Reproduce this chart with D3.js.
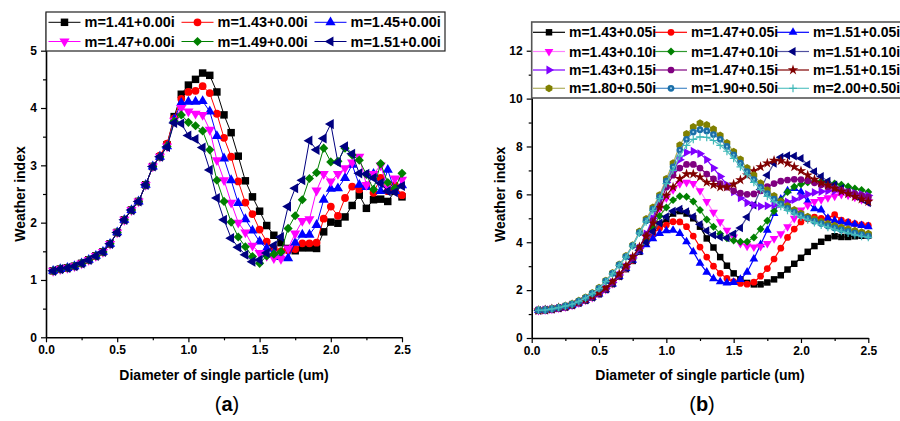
<!DOCTYPE html>
<html>
<head>
<meta charset="utf-8">
<script src="https://cdn.jsdelivr.net/npm/d3@7"></script>
<style>
  body { margin: 0; background: #fff; }
  text { font-family: "Liberation Sans", Arial, sans-serif; }
</style>
</head>
<body>
<svg id="chart" width="900" height="421"></svg>
<script>
// particle diameter (um), same grid for both panels
const diameter = [0.05,0.10,0.15,0.20,0.25,0.30,0.35,0.40,0.45,0.50,
                  0.55,0.60,0.65,0.70,0.75,0.80,0.85,0.90,0.95,1.00,
                  1.05,1.10,1.15,1.20,1.25,1.30,1.35,1.40,1.45,1.50,
                  1.55,1.60,1.65,1.70,1.75,1.80,1.85,1.90,1.95,2.00,
                  2.05,2.10,2.15,2.20,2.25,2.30,2.35,2.40,2.45,2.50];

// ---- panel (a): non absorbing particles
const labelsA = ["m=1.41+0.00i","m=1.43+0.00i","m=1.45+0.00i","m=1.47+0.00i","m=1.49+0.00i","m=1.51+0.00i"];
const a141 = [1.16,1.19,1.21,1.24,1.29,1.35,1.42,1.49,1.63,1.83,2.05,2.22,2.37,2.66,2.98,3.15,3.36,3.85,4.24,4.40,
              4.50,4.61,4.57,4.28,3.88,3.57,3.16,2.73,2.45,2.20,1.95,1.78,1.65,1.55,1.51,1.56,1.56,1.55,1.84,2.01,
              1.99,2.10,2.30,2.48,2.25,2.40,2.41,2.37,2.55,2.45];
const a143 = [1.16,1.19,1.21,1.24,1.29,1.35,1.42,1.49,1.63,1.83,2.05,2.22,2.37,2.66,2.98,3.17,3.38,3.82,4.16,4.28,
              4.30,4.38,4.26,3.90,3.48,3.15,2.72,2.35,2.15,1.88,1.67,1.55,1.50,1.52,1.54,1.64,1.64,1.65,2.07,2.28,
              2.12,2.43,2.63,2.58,2.65,2.52,2.78,2.55,2.65,2.48];
const a145 = [1.16,1.19,1.21,1.24,1.29,1.35,1.42,1.49,1.63,1.83,2.05,2.22,2.37,2.66,2.98,3.15,3.33,3.80,4.09,4.11,
              4.11,4.12,3.94,3.51,3.12,2.74,2.34,2.06,1.86,1.67,1.55,1.47,1.40,1.38,1.65,1.79,1.79,1.96,2.40,2.59,
              2.60,2.78,3.01,2.66,2.62,2.85,2.55,2.92,2.55,2.65];
const a147 = [1.16,1.19,1.21,1.24,1.29,1.35,1.42,1.49,1.63,1.83,2.05,2.22,2.37,2.66,2.98,3.15,3.33,3.78,4.00,3.94,
              3.90,3.88,3.62,3.09,2.74,2.35,2.00,1.83,1.60,1.47,1.42,1.38,1.37,1.55,1.81,2.03,2.06,2.56,2.85,2.72,
              2.85,2.95,3.05,3.15,2.66,2.85,3.00,2.60,2.77,2.75];
const a149 = [1.16,1.19,1.21,1.24,1.29,1.35,1.42,1.49,1.63,1.83,2.05,2.22,2.37,2.66,2.98,3.15,3.33,3.77,3.88,3.75,
              3.69,3.60,3.27,2.74,2.37,2.01,1.75,1.58,1.41,1.29,1.42,1.45,1.49,1.90,2.12,2.40,2.77,2.87,3.30,3.06,
              3.07,3.30,3.18,3.09,2.84,2.58,3.03,2.70,2.60,2.86];
const a151 = [1.16,1.19,1.21,1.24,1.29,1.35,1.42,1.49,1.63,1.83,2.05,2.22,2.37,2.66,2.98,3.15,3.32,3.74,3.73,3.52,
              3.46,3.31,2.92,2.43,2.05,1.73,1.57,1.44,1.32,1.35,1.47,1.60,1.75,2.28,2.60,2.74,3.43,3.27,3.47,3.72,
              3.05,3.33,3.20,2.86,2.85,2.78,2.69,2.55,2.53,2.64];
const valuesA = [a141, a143, a145, a147, a149, a151];

// ---- panel (b): absorbing particles
const labelsB = ["m=1.43+0.05i","m=1.47+0.05i","m=1.51+0.05i",
                 "m=1.43+0.10i","m=1.47+0.10i","m=1.51+0.10i",
                 "m=1.43+0.15i","m=1.47+0.15i","m=1.51+0.15i",
                 "m=1.80+0.50i","m=1.90+0.50i","m=2.00+0.50i"];
const b143k05 = [1.15,1.17,1.20,1.24,1.29,1.36,1.46,1.57,1.69,1.84,2.02,2.26,2.56,2.88,3.22,3.60,4.05,4.45,4.75,4.95,
                 5.20,5.30,5.20,5.00,4.65,4.16,3.78,3.38,3.02,2.70,2.45,2.30,2.24,2.24,2.32,2.45,2.62,2.86,3.10,3.35,
                 3.60,3.84,4.02,4.18,4.25,4.22,4.22,4.25,4.27,4.28];
const b147k05 = [1.15,1.17,1.20,1.24,1.29,1.36,1.46,1.57,1.69,1.84,2.02,2.26,2.57,2.89,3.24,3.63,4.00,4.35,4.60,4.72,
                 4.86,4.85,4.65,4.26,3.80,3.38,3.00,2.70,2.49,2.35,2.28,2.25,2.33,2.58,2.90,3.30,3.75,4.20,4.55,4.85,
                 4.98,5.05,5.00,5.00,5.15,4.92,4.85,4.78,4.74,4.70];
const b151k05 = [1.15,1.17,1.20,1.24,1.29,1.36,1.46,1.57,1.69,1.84,2.02,2.26,2.57,2.90,3.25,3.60,3.90,4.15,4.37,4.48,
                 4.50,4.37,4.02,3.60,3.12,2.75,2.48,2.35,2.30,2.32,2.45,2.75,3.30,3.90,4.50,5.20,5.80,6.15,6.25,6.10,
                 5.70,5.40,5.35,5.00,4.90,4.85,4.80,4.75,4.70,4.65];
const b143k10 = [1.15,1.17,1.20,1.25,1.30,1.37,1.47,1.58,1.70,1.85,2.03,2.28,2.60,2.93,3.30,3.70,4.20,4.80,5.40,5.85,
                 6.20,6.45,6.50,6.45,6.15,5.70,5.25,4.85,4.50,4.22,3.95,3.84,3.80,3.83,3.95,4.15,4.35,4.65,5.00,5.35,
                 5.55,5.70,5.78,5.86,5.93,6.00,5.97,5.88,5.78,5.70];
const b147k10 = [1.15,1.17,1.20,1.25,1.30,1.37,1.47,1.58,1.70,1.85,2.03,2.28,2.59,2.92,3.28,3.68,4.10,4.60,5.10,5.45,
                 5.76,5.92,5.90,5.70,5.35,4.95,4.65,4.35,4.17,4.07,4.02,4.02,4.20,4.55,4.90,5.30,5.75,6.10,6.32,6.42,
                 6.50,6.55,6.55,6.50,6.45,6.40,6.33,6.25,6.18,6.10];
const b151k10 = [1.15,1.17,1.20,1.25,1.30,1.37,1.47,1.58,1.70,1.85,2.03,2.28,2.59,2.92,3.28,3.67,4.00,4.45,4.80,5.07,
                 5.30,5.38,5.28,5.07,4.75,4.48,4.30,4.22,4.18,4.35,4.60,5.05,5.55,6.20,6.80,7.30,7.55,7.62,7.60,7.50,
                 7.25,6.95,6.75,6.55,6.40,6.25,6.10,5.95,5.80,5.65];
const b143k15 = [1.15,1.17,1.20,1.25,1.30,1.38,1.48,1.60,1.73,1.88,2.07,2.32,2.63,2.97,3.34,3.75,4.35,5.00,5.80,6.50,
                 7.00,7.45,7.75,7.80,7.70,7.45,7.10,6.75,6.40,6.10,5.85,5.65,5.55,5.50,5.52,5.55,5.60,5.68,5.78,5.90,
                 6.00,6.08,6.12,6.15,6.15,6.12,6.08,6.05,6.00,5.95];
const b147k15 = [1.15,1.17,1.20,1.25,1.31,1.38,1.48,1.60,1.73,1.88,2.07,2.32,2.63,2.97,3.34,3.76,4.30,4.90,5.60,6.30,
                 6.80,7.10,7.25,7.25,7.10,6.85,6.65,6.45,6.30,6.15,6.05,6.00,6.02,6.15,6.32,6.45,6.55,6.60,6.63,6.62,
                 6.57,6.48,6.40,6.32,6.25,6.18,6.10,6.02,5.95,5.88];
const b151k15 = [1.15,1.17,1.21,1.26,1.31,1.39,1.50,1.62,1.75,1.90,2.10,2.36,2.68,3.02,3.40,3.80,4.25,4.80,5.45,5.95,
                 6.30,6.65,6.85,6.85,6.72,6.50,6.40,6.30,6.30,6.42,6.60,6.80,6.98,7.15,7.30,7.42,7.40,7.30,7.15,6.98,
                 6.80,6.62,6.48,6.38,6.25,6.12,6.02,5.90,5.80,5.70];
const b180k50 = [1.17,1.18,1.23,1.28,1.35,1.43,1.56,1.70,1.88,2.10,2.40,2.72,3.07,3.43,3.88,4.45,4.97,5.45,5.97,6.65,
                 7.30,8.05,8.52,8.82,8.97,8.90,8.72,8.46,8.15,7.78,7.46,7.10,6.80,6.47,6.18,5.93,5.70,5.52,5.35,5.20,
                 5.07,4.96,4.86,4.77,4.69,4.62,4.55,4.48,4.42,4.36];
const b190k50 = [1.16,1.17,1.22,1.27,1.34,1.41,1.54,1.68,1.86,2.07,2.38,2.70,3.05,3.40,3.86,4.40,4.90,5.38,5.90,6.55,
                 7.15,7.85,8.30,8.60,8.70,8.65,8.50,8.30,8.00,7.65,7.30,6.95,6.62,6.30,6.03,5.80,5.60,5.42,5.26,5.12,
                 5.00,4.88,4.78,4.68,4.60,4.52,4.45,4.38,4.32,4.26];
const b200k50 = [1.16,1.17,1.22,1.27,1.33,1.41,1.53,1.67,1.85,2.06,2.36,2.68,3.03,3.38,3.84,4.38,4.85,5.32,5.82,6.45,
                 7.00,7.60,8.05,8.30,8.40,8.38,8.25,8.05,7.80,7.50,7.15,6.82,6.50,6.20,5.92,5.70,5.50,5.33,5.18,5.05,
                 4.93,4.82,4.72,4.62,4.53,4.45,4.38,4.31,4.25,4.20];
const valuesB = [b143k05, b147k05, b151k05, b143k10, b147k10, b151k10,
                 b143k15, b147k15, b151k15, b180k50, b190k50, b200k50];

// styles
const colorsA = ["#000000","#ff0000","#0000ff","#ff00ff","#008000","#000080"];
const shapesA = ["square","circle","up","down","diamond","left"];
const colorsB = ["#000000","#ff0000","#0000ff","#ff00ff","#008000","#000080",
                 "#8000ff","#800080","#800000","#808000","#1a6fa8","#3fb8b8"];
const linesB  = ["#000000","#ff0000","#0000ff","#ff80ff","#2f9a2f","#5050a0",
                 "#8000ff","#800080","#800000","#b0b060","#4a8cc8","#5cc4c4"];
const shapesB = ["square","circle","up","down","diamond","left",
                 "right","circle","star","hex","ring","plus"];

const svg = d3.select("#chart");
const font = "'Liberation Sans', Arial, sans-serif";

const hexagon = {
  draw(ctx, size) {
    const r = Math.sqrt(size / 2.598);
    for (let k = 0; k < 6; k++) {
      const a = Math.PI / 3 * k + Math.PI / 6;
      k ? ctx.lineTo(r * Math.cos(a), r * Math.sin(a)) : ctx.moveTo(r * Math.cos(a), r * Math.sin(a));
    }
    ctx.closePath();
  }
};
const plus = {
  draw(ctx, size) {
    const r = Math.sqrt(size) * 0.6;
    ctx.moveTo(-r, 0); ctx.lineTo(r, 0);
    ctx.moveTo(0, -r); ctx.lineTo(0, r);
  }
};

function addMarker(g, shape, color, cx, cy, size) {
  let type = d3.symbolSquare, rot = 0, s = size;
  if (shape === "circle" || shape === "ring") { type = d3.symbolCircle; s = size * 0.85; }
  else if (shape === "up") { type = d3.symbolTriangle; s = size * 0.8; }
  else if (shape === "down") { type = d3.symbolTriangle; rot = 180; s = size * 0.8; }
  else if (shape === "left") { type = d3.symbolTriangle; rot = -90; s = size * 0.8; }
  else if (shape === "right") { type = d3.symbolTriangle; rot = 90; s = size * 0.8; }
  else if (shape === "diamond") { rot = 45; s = size * 0.75; }
  else if (shape === "star") { type = d3.symbolStar; s = size * 0.8; }
  else if (shape === "hex") { type = hexagon; s = size * 0.95; }
  else if (shape === "plus") { type = plus; }
  const p = g.append("path")
    .attr("d", d3.symbol().type(type).size(s)())
    .attr("transform", `translate(${cx},${cy}) rotate(${rot})`);
  if (shape === "plus") {
    p.attr("fill", "none").attr("stroke", color).attr("stroke-width", 1.2);
  } else {
    p.attr("fill", color);
  }
  if (shape === "ring") {
    g.append("circle").attr("cx", cx).attr("cy", cy).attr("r", 1).attr("fill", "#a8d0ec");
  }
}

function drawPanel(cfg) {
  const g = svg.append("g");
  const x = d3.scaleLinear().domain([0, 2.5]).range(cfg.xRange);
  const y = d3.scaleLinear().domain([0, cfg.yMax]).range(cfg.yRange);

  // series
  const line = d3.line().x((d, i) => x(diameter[i])).y(d => y(d));
  cfg.values.forEach((vals, k) => {
    g.append("path").datum(vals)
      .attr("d", line)
      .attr("fill", "none")
      .attr("stroke", cfg.lines[k])
      .attr("stroke-width", cfg.lineWidth);
    const mg = g.append("g");
    vals.forEach((v, i) => addMarker(mg, cfg.shapes[k], cfg.colors[k], x(diameter[i]), y(v), cfg.markerSize));
  });

  // axes
  g.append("g").attr("transform", `translate(0,${y(0)})`)
    .call(d3.axisBottom(x).tickValues([0, 0.5, 1, 1.5, 2, 2.5]).tickFormat(d3.format(".1f"))
      .tickSize(5).tickSizeOuter(0).tickPadding(3));
  g.append("g").attr("transform", `translate(0,${y(0)})`)
    .call(d3.axisBottom(x).tickValues([0.25, 0.75, 1.25, 1.75, 2.25]).tickFormat("").tickSize(3).tickSizeOuter(0))
    .select(".domain").remove();
  g.append("g").attr("transform", `translate(${x(0)},0)`)
    .call(d3.axisLeft(y).tickValues(cfg.yMajor).tickFormat(d3.format("d"))
      .tickSize(5).tickSizeOuter(0).tickPadding(4));
  g.append("g").attr("transform", `translate(${x(0)},0)`)
    .call(d3.axisLeft(y).tickValues(cfg.yMinor).tickFormat("").tickSize(3).tickSizeOuter(0))
    .select(".domain").remove();
  g.selectAll(".domain").attr("stroke", "#000").attr("stroke-width", 1.6);
  g.selectAll(".tick line").attr("stroke", "#000").attr("stroke-width", 1.2);
  g.selectAll(".tick text").attr("font-family", font).attr("font-weight", "bold")
    .attr("font-size", 12).attr("fill", "#000");

  // titles
  const xc = (cfg.xRange[0] + cfg.xRange[1]) / 2;
  g.append("text").attr("x", xc).attr("y", 380).attr("text-anchor", "middle")
    .attr("font-family", font).attr("font-weight", "bold").attr("font-size", 14)
    .text("Diameter of single particle (um)");
  g.append("text").attr("transform", `translate(${cfg.yTitleX},${y(cfg.yMid)}) rotate(-90)`)
    .attr("text-anchor", "middle")
    .attr("font-family", font).attr("font-weight", "bold").attr("font-size", 14)
    .text("Weather index");
  const cap = g.append("text").attr("x", cfg.capX).attr("y", 411).attr("text-anchor", "middle")
    .attr("font-family", "'Liberation Serif', 'DejaVu Serif', serif").attr("font-size", 20);
  cap.append("tspan").text("(");
  cap.append("tspan").attr("font-weight", "bold").text(cfg.cap);
  cap.append("tspan").text(")");

  // legend
  const L = cfg.legend;
  const lg = g.append("g");
  lg.append("rect").attr("x", L.x).attr("y", L.y).attr("width", L.w).attr("height", L.h)
    .attr("fill", "#fff").attr("stroke", L.stroke).attr("stroke-width", L.strokeWidth);
  cfg.labels.forEach((lab, k) => {
    const col = k % 3, row = Math.floor(k / 3);
    const lx = L.cols[col], ly = L.rows[row];
    lg.append("line").attr("x1", lx).attr("x2", lx + 32).attr("y1", ly).attr("y2", ly)
      .attr("stroke", cfg.lines[k]).attr("stroke-width", cfg.lineWidth);
    addMarker(lg, cfg.shapes[k], cfg.colors[k], lx + 16, ly, cfg.markerSize);
    lg.append("text").attr("x", lx + 36).attr("y", ly + 5)
      .attr("font-family", font).attr("font-weight", "bold").attr("font-size", L.fontSize)
      .text(lab);
  });
}

drawPanel({
  values: valuesA, labels: labelsA, colors: colorsA, lines: colorsA, shapes: shapesA,
  xRange: [46, 402], yRange: [337.3, 12], yMax: 5.675,
  yMajor: [0, 1, 2, 3, 4, 5], yMinor: [0.5, 1.5, 2.5, 3.5, 4.5], yMid: 2.5,
  yTitleX: 25, capX: 227, cap: "a", lineWidth: 1, markerSize: 56,
  legend: { x: 46, y: 12, w: 399, h: 39, rows: [22.3, 41.5], cols: [48.5, 181.5, 314.5],
            fontSize: 14.5, stroke: "#222", strokeWidth: 1.2 }
});

drawPanel({
  values: valuesB, labels: labelsB, colors: colorsB, lines: linesB, shapes: shapesB,
  xRange: [531.7, 868.3], yRange: [338, 22], yMax: 13.2,
  yMajor: [0, 2, 4, 6, 8, 10, 12], yMinor: [1, 3, 5, 7, 9, 11], yMid: 6,
  yTitleX: 505, capX: 702, cap: "b", lineWidth: 1.2, markerSize: 42,
  legend: { x: 531.7, y: 22, w: 390, h: 76, rows: [32.3, 51.5, 70, 88.3], cols: [533, 655, 777],
            fontSize: 14, stroke: "#555", strokeWidth: 1.6 }
});
</script>
</body>
</html>
